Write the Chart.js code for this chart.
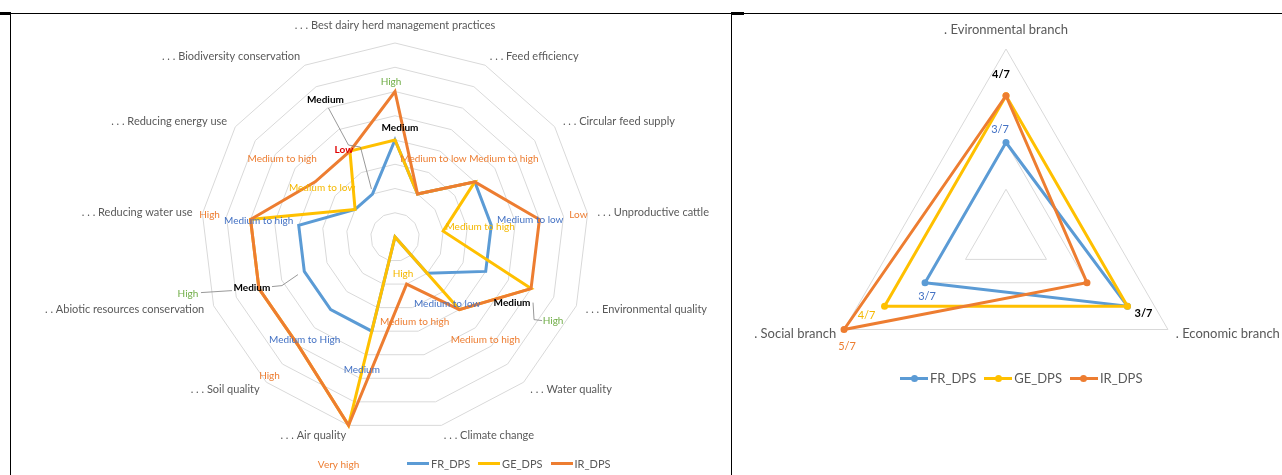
<!DOCTYPE html>
<html>
<head>
<meta charset="utf-8">
<script src="https://cdn.jsdelivr.net/npm/chart.js@4.4.1/dist/chart.umd.min.js"></script>
<style>
  body { margin:0; background:#fff; width:1282px; height:475px; overflow:hidden; position:relative; font-family:Lato, sans-serif; }
  .wrap { position:absolute; }
  .rule { position:absolute; background:#000; }
  .legend { position:absolute; display:flex; align-items:center; color:#595959; white-space:nowrap; }
  .legend .key { position:relative; display:inline-block; height:3px; margin-right:2px; }
  .legend .key i { position:absolute; left:50%; top:50%; width:7px; height:7px; margin:-3.5px 0 0 -3.5px; border-radius:50%; }
  .legend span.item { display:flex; align-items:center; margin-right:8px; }
</style>
</head>
<body>
<div class="rule" style="left:0;top:13px;width:1282px;height:1px"></div>
<div class="rule" style="left:0;top:12px;width:11px;height:3px"></div>
<div class="rule" style="left:731px;top:12px;width:13px;height:3px"></div>
<div class="rule" style="left:10px;top:13px;width:1px;height:462px"></div>
<div class="rule" style="left:731px;top:13px;width:1px;height:462px"></div>

<div class="wrap" style="left:11px;top:14px;width:720px;height:461px"><canvas id="left"></canvas></div>
<div class="wrap" style="left:733px;top:14px;width:549px;height:461px"><canvas id="right"></canvas></div>

<div class="legend" id="legLeft" style="left:407px;top:457px;font-size:11px"></div>
<div class="legend" id="legRight" style="left:900px;top:370px;font-size:13px"></div>

<script>
// ---- data ----
const leftCats = ['. . . Best dairy herd management practices', '. . . Feed efficiency', '. . . Circular feed supply',
  '. . . Unproductive cattle', '. . . Environmental quality', '. . . Water quality', '. . . Climate change',
  '. . . Air quality', '. . . Soil quality', '. . Abiotic resources conservation', '. . . Reducing water use',
  '. . . Reducing energy use', '. . . Biodiversity conservation'];
const frLeft = [2, 1, 2, 2, 2, 1, 0, 2, 2, 2, 2, 1, 1];
const geLeft = [2, 1, 2, 1, 3, 2, 0, 4, 3, 3, 3, 1, 2];
const irLeft = [3, 1, 2, 3, 3, 2, 1, 4, 3, 3, 3, 2, 2];

const rightCats = ['. Evironmental branch', '. Economic branch', '. Social branch'];
const frRight = [3, 4, 3];
const geRight = [4, 4, 4];
const irRight = [4, 3, 5];

const seriesNames = ['FR_DPS', 'GE_DPS', 'IR_DPS'];
const colors = { fr:'#5B9BD5', ge:'#FFC000', ir:'#ED7D31' };
const txt = { green:'#70AD47', red:'#E00000', orange:'#ED7D31', blue:'#4472C4', yellow:'#F5B800', black:'#000' };

// annotation labels: series, category, text, colour, bold, offset from the point
const leftNotes = [
  ['ir', 0, 'High', txt.green, false, -4, -10],
  ['ge', 0, 'Medium', txt.black, true, 5, -12],
  ['fr', 12, 'Medium', txt.black, true, -47, -94],
  ['ir', 12, 'Low', txt.red, true, -6, -1],
  ['ir', 11, 'Medium to high', txt.orange, false, -33, -23],
  ['ge', 11, 'Medium to low', txt.yellow, false, -33, -22],
  ['ir', 1, 'Medium to low', txt.orange, false, 16, -35],
  ['ir', 2, 'Medium to high', txt.orange, false, 29, -23],
  ['ir', 3, 'Low', txt.orange, false, 39, -5],
  ['fr', 3, 'Medium to low', txt.blue, false, 39, -6],
  ['ge', 3, 'Medium to high', txt.yellow, false, 37, -4],
  ['ir', 10, 'High', txt.orange, false, -41, -5],
  ['fr', 10, 'Medium to high', txt.blue, false, -40, -5],
  ['ir', 9, 'Medium', txt.black, true, -7, -1],
  ['ir', 9, 'High', txt.green, false, -71, 5],
  ['ge', 6, 'High', txt.yellow, false, 8, 37],
  ['fr', 5, 'Medium to low', txt.blue, false, 20, 30],
  ['ir', 4, 'Medium', txt.black, true, -19, 14],
  ['ir', 4, 'High', txt.green, false, 22, 32],
  ['ir', 6, 'Medium to high', txt.orange, false, 8, 38],
  ['ir', 5, 'Medium to high', txt.orange, false, 26, 30],
  ['fr', 8, 'Medium to High', txt.blue, false, -26, 30],
  ['fr', 7, 'Medium', txt.blue, false, -10, 39],
  ['ir', 8, 'High', txt.orange, false, -29, 30],
  ['ir', 7, 'Very high', txt.orange, false, -10, 39]
];
const leftLeaders = [
  ['fr', 12, [[-44, -86], [-24, -49], [-12, -47], [-1, -5]]],
  ['ir', 9, [[-58, 4], [-27, 2]]],
  ['ir', 9, [[13, -2], [23, -3], [39, -14]]],
  ['ir', 4, [[2, 14], [3, 31], [11, 32]]]
];
const rightNotes = [
  ['ir', 0, '4/7', txt.black, true, -5, -21],
  ['fr', 0, '3/7', txt.blue, false, -6, -13],
  ['fr', 2, '3/7', txt.blue, false, 2, 14],
  ['ge', 2, '4/7', txt.yellow, false, -18, 9],
  ['ir', 2, '5/7', txt.orange, false, 3, 17],
  ['ge', 1, '3/7', txt.black, true, 16, 7]
];

// ---- plugins ----
const catLabels = {
  id: 'catLabels',
  afterDraw(chart, args, opts) {
    const r = chart.scales.r, ctx = chart.ctx;
    ctx.save();
    ctx.font = opts.font;
    ctx.fillStyle = '#595959';
    chart.data.labels.forEach((label, i) => {
      const dx0 = r.getPointPosition(i, r.drawingArea).x - r.xCenter;
      const top = Math.abs(dx0) < 3;
      const p = r.getPointPosition(i, r.drawingArea + (top ? opts.topGap : opts.gap));
      if (top) {
        ctx.textAlign = 'center';
        ctx.textBaseline = p.y < r.yCenter ? 'bottom' : 'top';
      } else {
        ctx.textAlign = dx0 > 0 ? 'left' : 'right';
        ctx.textBaseline = 'middle';
      }
      ctx.fillText(label, p.x, p.y);
    });
    ctx.restore();
  }
};

const notes = {
  id: 'notes',
  afterDraw(chart, args, opts) {
    const r = chart.scales.r, ctx = chart.ctx;
    const idx = { fr: 0, ge: 1, ir: 2 };
    const at = (key, i) => r.getPointPositionForValue(i, chart.data.datasets[idx[key]].data[i]);
    ctx.save();
    ctx.strokeStyle = '#7f7f7f';
    ctx.lineWidth = 0.8;
    (opts.leaders || []).forEach(([key, i, pts]) => {
      const p = at(key, i);
      ctx.beginPath();
      pts.forEach(([dx, dy], k) => k ? ctx.lineTo(p.x + dx, p.y + dy) : ctx.moveTo(p.x + dx, p.y + dy));
      ctx.stroke();
    });
    ctx.textAlign = 'center';
    ctx.textBaseline = 'middle';
    opts.items.forEach(([key, i, text, color, bold, dx, dy]) => {
      const p = at(key, i);
      ctx.font = (bold ? 'bold ' : '') + opts.size + 'px Lato';
      ctx.fillStyle = color;
      ctx.fillText(text, p.x + dx, p.y + dy);
    });
    ctx.restore();
  }
};

function radarOptions(min, max, step, pad) {
  return {
    responsive: true, maintainAspectRatio: false, animation: false,
    layout: { padding: pad },
    elements: { line: { tension: 0, fill: false } },
    scales: {
      r: {
        min: min, max: max,
        ticks: { display: false, stepSize: step },
        grid: { color: '#d9d9d9', lineWidth: 1 },
        angleLines: { display: false },
        pointLabels: { display: false }
      }
    }
  };
}

function ds(label, data, color, order, pr) {
  return { label: label, data: data, borderColor: color, backgroundColor: color, borderWidth: 3,
           pointRadius: pr, pointHoverRadius: pr, pointBorderWidth: 0, pointBackgroundColor: color, order: order };
}

// left chart: 13 indicators
const lo = radarOptions(0, 4, 0.5, { left: 190, top: 29, right: 142, bottom: 44 });
lo.plugins = { legend: { display: false }, tooltip: { enabled: false },
  catLabels: { font: '11px Lato', gap: 10, topGap: 12 },
  notes: { items: leftNotes, leaders: leftLeaders, size: 10 } };
new Chart(document.getElementById('left'), {
  type: 'radar',
  data: { labels: leftCats, datasets: [
    ds(seriesNames[0], frLeft, colors.fr, 2, 0),
    ds(seriesNames[1], geLeft, colors.ge, 1, 0),
    ds(seriesNames[2], irLeft, colors.ir, 0, 0)
  ] },
  options: lo,
  plugins: [catLabels, notes]
});

// right chart: 3 branches
const ro = radarOptions(1, 5, 1, { left: 86, top: 35, right: 89, bottom: 52 });
ro.plugins = { legend: { display: false }, tooltip: { enabled: false },
  catLabels: { font: '13px Lato', gap: 9, topGap: 13 },
  notes: { items: rightNotes, size: 11 } };
new Chart(document.getElementById('right'), {
  type: 'radar',
  data: { labels: rightCats, datasets: [
    ds(seriesNames[0], frRight, colors.fr, 2, 3.5),
    ds(seriesNames[1], geRight, colors.ge, 1, 3.5),
    ds(seriesNames[2], irRight, colors.ir, 0, 3.5)
  ] },
  options: ro,
  plugins: [catLabels, notes]
});

// legends
function legend(id, marker, w) {
  const el = document.getElementById(id);
  [colors.fr, colors.ge, colors.ir].forEach((c, k) => {
    el.insertAdjacentHTML('beforeend',
      '<span class="item"><span class="key" style="width:' + w + 'px;background:' + c + '">' +
      (marker ? '<i style="background:' + c + '"></i>' : '') + '</span>' + seriesNames[k] + '</span>');
  });
}
legend('legLeft', false, 22);
legend('legRight', true, 28);
</script>
</body>
</html>
